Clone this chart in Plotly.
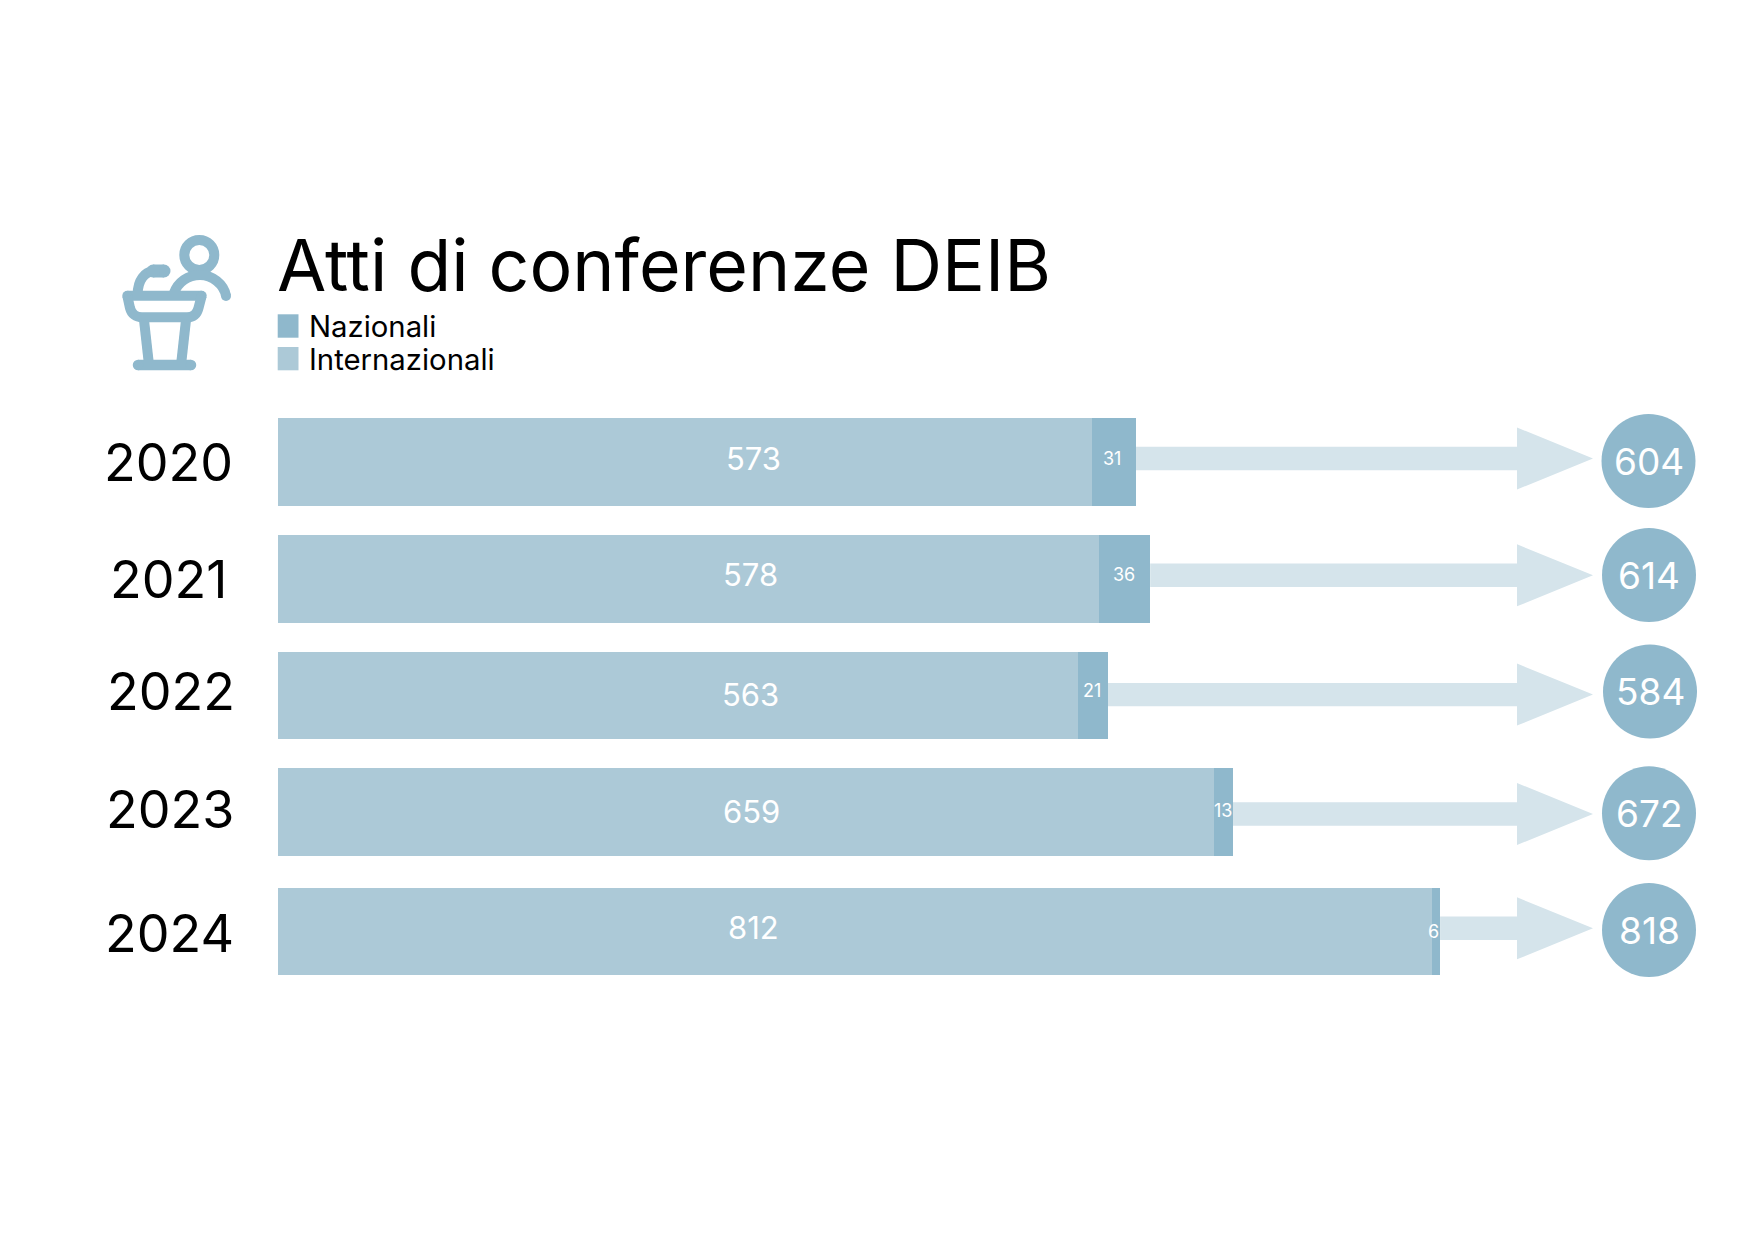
import plotly.graph_objects as go

# --- data ---
years = ["2020", "2021", "2022", "2023", "2024"]
internazionali = [573, 578, 563, 659, 812]
nazionali = [31, 36, 21, 13, 6]
title_text = "Atti di conferenze DEIB"
legend_labels = ["Nazionali", "Internazionali"]

# --- colours / layout constants ---
DARK = "#8FB8CC"
LIGHT = "#ACC9D7"
ARROW = "#D5E4EB"
W, H = 1754, 1241
X0 = 277.7
PX_PER_UNIT = 1.421
FONT = "Inter"

bar_y = [461.8, 578.9, 695.7, 812.0, 931.7]
bar_h = 87.5
arrow_y = [458.5, 575.3, 694.6, 814.0, 928.3]
circle_y = [461, 575, 691.5, 813.3, 930]
circle_x = [1648.5, 1649, 1650, 1649, 1649]
year_x = [168, 168, 171, 169.5, 169]
year_y = [462, 579, 691, 809, 933]
big_x = [753, 750, 750, 751, 753]
big_y = [458.5, 574.5, 694.5, 811, 927.5]
small_x = [1112, 1124, 1092, 1222.6, 1433]
small_y = [458, 574, 690, 810, 931]


def dx(px):
    return (px - X0) / PX_PER_UNIT


def path(*cmds):
    out = []
    for c in cmds:
        if isinstance(c, str):
            out.append(c)
        else:
            out.append(f"{dx(c[0]):.3f},{c[1]:.2f}")
    return " ".join(out)


totals = [a + b for a, b in zip(internazionali, nazionali)]

fig = go.Figure()
fig.add_trace(go.Bar(name=legend_labels[1], y=bar_y, x=internazionali, orientation="h",
                     width=bar_h, marker=dict(color=LIGHT, line=dict(width=0)), showlegend=False,
                     hovertext=years))
fig.add_trace(go.Bar(name=legend_labels[0], y=bar_y, x=nazionali, orientation="h",
                     width=bar_h, marker=dict(color=DARK, line=dict(width=0)), showlegend=False,
                     hovertext=years))
fig.add_trace(go.Scatter(x=[dx(v) for v in circle_x], y=circle_y, mode="markers",
                         marker=dict(size=94, color=DARK, line=dict(width=0)),
                         showlegend=False, name="Totale"))

shapes = []
annotations = []


def ann(px, py, text, size, color="black", anchor="center"):
    annotations.append(dict(x=dx(px), y=py, xref="x", yref="y", text=text, showarrow=False,
                            xanchor=anchor, yanchor="middle", align="left" if anchor == "left" else "center",
                            font=dict(family=FONT, size=size, color=color)))


# arrows from the end of each stacked bar
for total, cy in zip(totals, arrow_y):
    head_base, tip = 1517, 1593
    tail = total
    xb, xt = dx(head_base), dx(tip)
    shapes.append(dict(type="path", xref="x", yref="y", layer="below", fillcolor=ARROW,
                       line=dict(width=0),
                       path=f"M {tail},{cy-11.7} L {xb},{cy-11.7} L {xb},{cy-31} L {xt},{cy} "
                            f"L {xb},{cy+31} L {xb},{cy+11.7} L {tail},{cy+11.7} Z"))

for i in range(5):
    ann(year_x[i], year_y[i], years[i], 52)
    ann(big_x[i], big_y[i], str(internazionali[i]), 31, "white")
    ann(small_x[i], small_y[i], str(nazionali[i]), 18, "white")
    ann(circle_x[i], circle_y[i], str(totals[i]), 37, "white")

# title and legend
ann(275, 265, title_text, 71.5, anchor="left")
for (top, bot, col, label, ty) in [(314.3, 337.7, DARK, legend_labels[0], 326.5),
                                   (347, 370.3, LIGHT, legend_labels[1], 359.5)]:
    shapes.append(dict(type="rect", xref="x", yref="y", x0=dx(277.7), x1=dx(298.5), y0=top, y1=bot,
                       fillcolor=col, line=dict(width=0)))
    ann(306.5, ty, label, 29.3, anchor="left")


# podium icon, drawn as stroked paths with round end caps
def stroke(d, w=10):
    shapes.append(dict(type="path", xref="x", yref="y", path=d, fillcolor="rgba(0,0,0,0)",
                       line=dict(color=DARK, width=w)))


def dot(px, py, r=5):
    shapes.append(dict(type="circle", xref="x", yref="y", x0=dx(px - r), x1=dx(px + r), y0=py - r, y1=py + r,
                       fillcolor=DARK, line=dict(width=0)))


# head
shapes.append(dict(type="circle", xref="x", yref="y", x0=dx(184.3), x1=dx(214.3), y0=240, y1=270,
                   fillcolor="rgba(0,0,0,0)", line=dict(color=DARK, width=10)))
# shoulders
stroke(path("M", (174, 293), "C", (178, 282), (188, 275), (200, 275), "C", (212, 275), (224, 284), (226, 296)))
dot(226, 296)
# microphone
stroke(path("M", (137.7, 294), "C", (137.7, 280), (145, 272), (153, 271)))
stroke(path("M", (153, 271), "L", (164, 271)), 13)
dot(164, 271, 6.5)
dot(153, 271, 6.5)
# lectern top and bowl
stroke(path("M", (127.3, 295.7), "L", (201.7, 295.7)))
dot(127.3, 295.7)
dot(201.7, 295.7)
stroke(path("M", (127.3, 295.7), "L", (130, 308), "C", (131.5, 314), (136, 317.3), (142, 317.3), "L", (187, 317.3),
            "C", (193, 317.3), (197, 314), (198.5, 308), "L", (201.7, 295.7)))
# pedestal
stroke(path("M", (144, 320), "L", (149, 365)))
stroke(path("M", (186, 320), "L", (181, 365)))
stroke(path("M", (138, 365), "L", (191, 365)), 10.5)
dot(138, 365, 5.25)
dot(191, 365, 5.25)

fig.update_layout(
    width=W, height=H, autosize=False,
    margin=dict(l=0, r=0, t=0, b=0, pad=0),
    paper_bgcolor="white", plot_bgcolor="white",
    barmode="stack", showlegend=False,
    xaxis=dict(visible=False, range=[dx(0), dx(W)], fixedrange=True),
    yaxis=dict(visible=False, range=[H, 0], fixedrange=True),
    shapes=shapes, annotations=annotations,
    font=dict(family=FONT),
)
fig.write_html("out.html", config=dict(displayModeBar=False),
               post_script="document.body.style.margin='0';")
